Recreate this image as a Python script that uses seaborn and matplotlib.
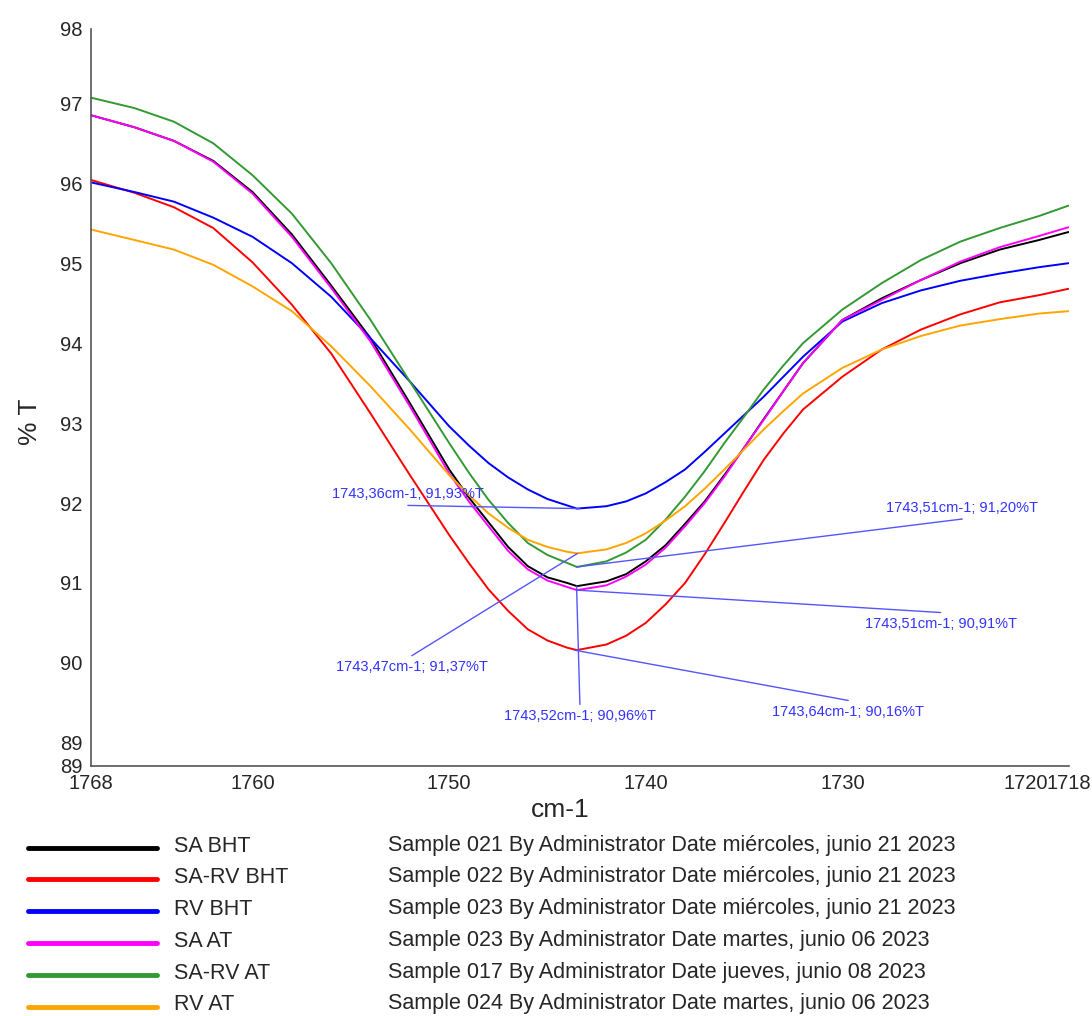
import matplotlib
matplotlib.use("Agg")
import matplotlib.pyplot as plt
from matplotlib.lines import Line2D
from matplotlib.transforms import ScaledTranslation
import pandas as pd
import seaborn as sns

# wavenumber (cm-1)
wavenumber = [1768.2, 1766, 1764, 1762, 1760, 1758, 1756, 1754, 1752, 1750, 1749, 1748,
              1747, 1746, 1745, 1744, 1743.5, 1742, 1741, 1740, 1739, 1738, 1737, 1736,
              1735, 1734, 1733, 1732, 1730, 1728, 1726, 1724, 1722, 1720, 1718.5]

sa_bht = [96.85, 96.70, 96.53, 96.28, 95.89, 95.36, 94.72, 94.06, 93.25, 92.42, 92.07, 91.76,
          91.45, 91.21, 91.07, 91.00, 90.96, 91.02, 91.11, 91.27, 91.47, 91.74, 92.02, 92.35,
          92.69, 93.05, 93.40, 93.75, 94.29, 94.56, 94.79, 95.00, 95.17, 95.29, 95.39]
sa_rv_bht = [96.04, 95.88, 95.70, 95.44, 95.01, 94.48, 93.87, 93.12, 92.35, 91.60, 91.25, 90.92,
             90.65, 90.42, 90.28, 90.19, 90.16, 90.23, 90.34, 90.50, 90.73, 91.00, 91.36, 91.75,
             92.15, 92.54, 92.87, 93.17, 93.58, 93.92, 94.17, 94.36, 94.51, 94.60, 94.68]
rv_bht = [96.01, 95.89, 95.77, 95.57, 95.33, 95.00, 94.58, 94.06, 93.52, 92.96, 92.72, 92.50,
          92.32, 92.17, 92.05, 91.97, 91.93, 91.96, 92.02, 92.12, 92.26, 92.42, 92.64, 92.87,
          93.10, 93.33, 93.58, 93.83, 94.27, 94.50, 94.66, 94.78, 94.87, 94.95, 95.00]
sa_at = [96.85, 96.70, 96.53, 96.27, 95.87, 95.33, 94.69, 94.02, 93.21, 92.37, 92.02, 91.71,
         91.40, 91.17, 91.03, 90.95, 90.91, 90.97, 91.08, 91.23, 91.44, 91.71, 92.00, 92.33,
         92.69, 93.04, 93.40, 93.75, 94.29, 94.54, 94.79, 95.02, 95.20, 95.34, 95.45]
sa_rv_at = [97.07, 96.94, 96.77, 96.50, 96.10, 95.62, 95.00, 94.29, 93.52, 92.75, 92.38, 92.04,
            91.75, 91.50, 91.35, 91.25, 91.20, 91.27, 91.38, 91.54, 91.79, 92.08, 92.40, 92.75,
            93.08, 93.42, 93.72, 94.00, 94.42, 94.75, 95.04, 95.27, 95.44, 95.59, 95.72]
rv_at = [95.42, 95.29, 95.17, 94.98, 94.71, 94.40, 93.96, 93.46, 92.92, 92.35, 92.10, 91.87,
         91.69, 91.54, 91.45, 91.39, 91.37, 91.42, 91.50, 91.62, 91.78, 91.96, 92.18, 92.42,
         92.67, 92.92, 93.15, 93.37, 93.69, 93.92, 94.09, 94.22, 94.30, 94.37, 94.40]

series_names = ["SA BHT", "SA-RV BHT", "RV BHT", "SA AT", "SA-RV AT", "RV AT"]
series_colors = ["#000000", "#ff0000", "#0000ff", "#ff00ff", "#339933", "#ffa500"]
sample_info = [
    "Sample 021 By Administrator Date miércoles, junio 21 2023",
    "Sample 022 By Administrator Date miércoles, junio 21 2023",
    "Sample 023 By Administrator Date miércoles, junio 21 2023",
    "Sample 023 By Administrator Date martes, junio 06 2023",
    "Sample 017 By Administrator Date jueves, junio 08 2023",
    "Sample 024 By Administrator Date martes, junio 06 2023",
]

# peak picks: label text, peak point, label anchor
peak_text = ["1743,36cm-1; 91,93%T", "1743,51cm-1; 91,20%T", "1743,51cm-1; 90,91%T",
             "1743,64cm-1; 90,16%T", "1743,47cm-1; 91,37%T", "1743,52cm-1; 90,96%T"]
peak_x = [1743.36, 1743.51, 1743.51, 1743.64, 1743.47, 1743.52]
peak_y = [91.93, 91.20, 90.91, 90.16, 91.37, 90.96]
anchor_x = [1752.1, 1723.9, 1725.0, 1729.7, 1751.9, 1743.35]
anchor_y = [91.97, 91.80, 90.63, 89.53, 90.09, 89.48]
anchor_above = [True, True, False, False, False, False]

x_ticks = [1768.22, 1760, 1750, 1740, 1730, 1720, 1718.47]
x_ticklabels = ["1768", "1760", "1750", "1740", "1730", "1720", "1718"]
y_ticks = [88.71, 89, 90, 91, 92, 93, 94, 95, 96, 97, 97.93]
y_ticklabels = ["89", "89", "90", "91", "92", "93", "94", "95", "96", "97", "98"]

sns.set_style("white")
plt.rcParams["font.family"] = ["Liberation Sans", "DejaVu Sans"]


def main():
    all_series = [sa_bht, sa_rv_bht, rv_bht, sa_at, sa_rv_at, rv_at]
    frames = []
    for name, vals in zip(series_names, all_series):
        frames.append(pd.DataFrame({"cm": wavenumber, "T": vals, "serie": name}))
    df = pd.concat(frames, ignore_index=True)

    fig = plt.figure(figsize=(10.92, 10.16), dpi=100)
    ax = fig.add_axes([91 / 1092, 1 - 766 / 1016, 978 / 1092, 737 / 1016])

    sns.lineplot(data=df, x="cm", y="T", hue="serie", hue_order=series_names,
                 palette=dict(zip(series_names, series_colors)), linewidth=1.4,
                 legend=False, ax=ax)

    ax.set_xlim(x_ticks[0], x_ticks[-1])
    ax.set_ylim(y_ticks[0], y_ticks[-1])
    ax.set_xticks(x_ticks)
    ax.set_xticklabels(x_ticklabels, fontsize=14.5)
    ax.set_yticks(y_ticks)
    ax.set_yticklabels(y_ticklabels, fontsize=14.5)
    ax.tick_params(axis="both", direction="out", length=5, width=1.2, color="#555555", pad=1)
    # "1720" sits a bit left of its tick in the original
    lbl = ax.get_xticklabels()[5]
    lbl.set_transform(lbl.get_transform() + ScaledTranslation(-0.13, 0, fig.dpi_scale_trans))

    for side in ["top", "right"]:
        ax.spines[side].set_visible(False)
    for side in ["left", "bottom"]:
        ax.spines[side].set_color("#555555")
        ax.spines[side].set_linewidth(1.2)

    ax.set_xlabel("cm-1", fontsize=19)
    ax.xaxis.set_label_coords((560 - 91) / 978, -0.044)
    ax.set_ylabel("% T", fontsize=19)
    ax.yaxis.set_label_coords(-0.050, 0.467)

    for txt, px, py, axx, axy, above in zip(peak_text, peak_x, peak_y, anchor_x, anchor_y, anchor_above):
        ax.plot([axx, px], [axy, py], color="#5555ff", linewidth=1.0)
        ax.annotate(txt, xy=(axx, axy), xytext=(0, 3 if above else -3),
                    textcoords="offset points", ha="center",
                    va="bottom" if above else "top",
                    color="#3333ff", fontsize=10.5)

    # legend block under the plot
    for i, (name, col, info) in enumerate(zip(series_names, series_colors, sample_info)):
        y = 1 - (846 + i * 31.8) / 1016
        fig.add_artist(Line2D([28 / 1092, 157 / 1092], [y - 1.5 / 1016, y - 1.5 / 1016],
                              color=col, linewidth=3.5, transform=fig.transFigure))
        fig.text(174 / 1092, y, name, fontsize=15.5, va="center", ha="left")
        fig.text(388 / 1092, y + 1 / 1016, info, fontsize=15.5, va="center", ha="left")

    fig.savefig("out.png", dpi=100)


if __name__ == "__main__":
    main()
